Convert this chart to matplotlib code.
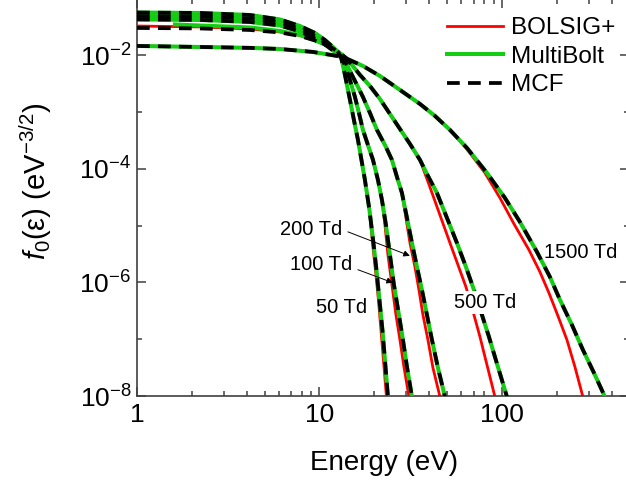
import matplotlib
matplotlib.use('Agg')
import matplotlib.pyplot as plt
from matplotlib.ticker import FixedLocator, LogLocator, NullFormatter

plt.rcParams['font.family'] = ['Liberation Sans', 'DejaVu Sans']
plt.rcParams['mathtext.fontset'] = 'custom'
plt.rcParams['mathtext.rm'] = 'Liberation Sans'
plt.rcParams['mathtext.it'] = 'Liberation Sans:italic'
plt.rcParams['mathtext.default'] = 'regular'

# --- data (energy in eV, f0 in eV^-3/2) ---
td_labels = ['50 Td', '100 Td', '200 Td', '500 Td', '1500 Td']

# MCF (MultiBolt lies on top of it)
e_50 = [1.0, 2.214, 4.161, 6.075, 7.82, 9.45, 10.72, 11.86, 12.63, 13.12, 13.62, 14.15, 14.70,
        15.45, 16.26, 16.99, 17.75, 18.79, 19.77, 20.53, 21.32, 22.14, 22.85, 23.73, 23.88]
f_50 = [5.71e-2, 5.60e-2, 5.16e-2, 4.31e-2, 3.30e-2, 2.49e-2, 1.87e-2, 1.41e-2, 1.153e-2, 9.42e-3,
        5.56e-3, 3.03e-3, 1.65e-3, 7.31e-4, 3.25e-4, 1.45e-4, 6.43e-5, 1.91e-5, 5.0e-6, 1.67e-6,
        4.97e-7, 1.47e-7, 4.36e-8, 9.73e-9, 8.61e-9]

e_100 = [1.0, 2.214, 4.161, 6.075, 7.82, 9.45, 10.72, 11.86, 12.63, 13.28, 13.97, 14.70, 15.65,
         16.46, 17.31, 18.44, 19.65, 20.92, 22.00, 23.14, 24.34, 25.60, 27.26, 28.68, 30.17, 32.13, 32.53]
f_100 = [4.95e-2, 4.86e-2, 4.48e-2, 3.81e-2, 2.93e-2, 2.20e-2, 1.69e-2, 1.30e-2, 1.084e-2, 9.04e-3,
         6.02e-3, 3.71e-3, 1.86e-3, 9.73e-4, 4.88e-4, 2.65e-4, 1.45e-4, 6.43e-5, 2.86e-5, 1.04e-5,
         3.08e-6, 9.12e-7, 2.70e-7, 9.79e-8, 3.28e-8, 9.73e-9, 7.94e-9]

e_200 = [1.0, 2.214, 4.161, 6.075, 7.82, 9.45, 10.72, 11.86, 12.79, 13.62, 14.33, 15.07, 16.05,
         17.31, 18.91, 20.66, 22.85, 24.96, 26.59, 28.32, 30.17, 32.13, 34.22, 36.45, 38.82, 41.35,
         44.61, 48.73, 49.34]
f_200 = [4.31e-2, 4.22e-2, 3.89e-2, 3.37e-2, 2.65e-2, 1.99e-2, 1.56e-2, 1.225e-2, 1.02e-2, 8.34e-3,
         6.28e-3, 4.54e-3, 3.03e-3, 1.86e-3, 9.73e-4, 4.88e-4, 2.65e-4, 1.45e-4, 7.26e-5, 3.79e-5,
         1.38e-5, 5.0e-6, 1.89e-6, 7.43e-7, 2.70e-7, 9.79e-8, 3.15e-8, 9.73e-9, 7.94e-9]

e_500 = [1.0, 2.214, 4.161, 6.075, 7.82, 9.45, 10.72, 11.86, 12.95, 13.97, 15.07, 16.68, 18.91,
         21.46, 24.34, 27.61, 31.33, 35.54, 39.31, 44.05, 49.96, 56.66, 63.49, 70.25, 77.71, 84.89,
         91.54, 98.74, 106.5, 107.9]
f_500 = [3.05e-2, 2.99e-2, 2.81e-2, 2.54e-2, 2.20e-2, 1.84e-2, 1.56e-2, 1.33e-2, 1.106e-2, 9.04e-3,
         6.81e-3, 4.54e-3, 2.90e-3, 1.71e-3, 9.33e-4, 5.08e-4, 2.77e-4, 1.45e-4, 7.57e-5, 3.79e-5,
         1.38e-5, 5.0e-6, 1.89e-6, 7.43e-7, 2.70e-7, 1.11e-7, 4.92e-8, 2.19e-8, 9.73e-9, 7.94e-9]

e_1500 = [1.0, 2.214, 4.161, 6.075, 9.21, 13.45, 17.31, 21.46, 27.61, 35.54, 42.95, 51.90, 64.29,
          82.78, 103.8, 125.5, 155.5, 183.2, 207.9, 241.8, 277.8, 319.3, 366.6, 376.0]
f_1500 = [1.47e-2, 1.41e-2, 1.36e-2, 1.30e-2, 1.153e-2, 9.42e-3, 6.53e-3, 4.35e-3, 2.47e-3, 1.40e-3,
          8.61e-4, 4.88e-4, 2.35e-4, 8.53e-5, 3.10e-5, 1.17e-5, 3.47e-6, 1.26e-6, 4.97e-7, 1.80e-7,
          6.53e-8, 2.57e-8, 9.73e-9, 7.94e-9]

# MultiBolt 500 Td starts at 1.6 eV, a little above the others at low energy
e_500_mb = [1.615, 2.214, 4.161, 6.075, 7.82] + e_500[5:]
f_500_mb = [3.52e-2, 3.37e-2, 3.11e-2, 2.70e-2, 2.29e-2] + f_500[5:]

# BOLSIG+
e_50_bs = e_50[:18] + [19.53, 20.27, 21.05, 21.73, 22.42, 23.29, 23.44]
f_50_bs = f_50

e_100_bs = e_100[:19] + [22.85, 23.73, 24.96, 26.26, 27.61, 29.04, 30.94, 31.33]
f_100_bs = f_100

e_200_bs = e_200[:20] + [29.79, 31.33, 33.37, 35.10, 36.91, 39.31, 41.88, 45.75, 46.33]
f_200_bs = f_200

e_500_bs = [1.0, 2.214, 4.161, 6.075, 7.82] + e_500[5:18] + \
           [40.83, 46.33, 51.90, 57.41, 63.49, 70.25, 75.78, 80.71, 85.97, 91.54, 92.72]
f_500_bs = [3.30e-2, 3.18e-2, 2.93e-2, 2.59e-2, 2.25e-2] + f_500[5:18] + \
           [4.29e-5, 1.38e-5, 5.0e-6, 2.05e-6, 8.41e-7, 2.70e-7, 1.11e-7, 4.92e-8, 2.19e-8, 9.73e-9, 7.94e-9]

e_1500_bs = e_1500[:12] + [63.49, 80.71, 97.50, 116.4, 140.6, 161.5, 180.9, 202.7, 227.1, 251.2, 277.8, 281.4]
f_1500_bs = f_1500[:12] + [2.35e-4, 8.53e-5, 3.10e-5, 1.08e-5, 3.77e-6, 1.54e-6, 6.59e-7, 2.59e-7,
                           9.79e-8, 3.28e-8, 9.73e-9, 7.94e-9]

mcf = [(e_50, f_50), (e_100, f_100), (e_200, f_200), (e_500, f_500), (e_1500, f_1500)]
multibolt = [(e_50, f_50), (e_100, f_100), (e_200, f_200), (e_500_mb, f_500_mb), (e_1500, f_1500)]
bolsig = [(e_50_bs, f_50_bs), (e_100_bs, f_100_bs), (e_200_bs, f_200_bs),
          (e_500_bs, f_500_bs), (e_1500_bs, f_1500_bs)]

red = '#ff0000'
green = '#14cc14'

fig = plt.figure(figsize=(6.26, 4.84), dpi=100)
ax = fig.add_axes([0.2188, 0.1818, 0.7867, 0.8209])

for i, (e, f) in enumerate(bolsig):
    ax.plot(e, f, color=red, lw=2.0, zorder=2, solid_joinstyle='round',
            label='BOLSIG+' if i == 0 else None)
for i, (e, f) in enumerate(multibolt):
    ax.plot(e, f, color=green, lw=2.9, zorder=3, solid_joinstyle='round',
            label='MultiBolt' if i == 0 else None)
for i, (e, f) in enumerate(mcf):
    ax.plot(e, f, color='black', lw=2.7, ls=(0, (3.4, 2.2)), zorder=4,
            label='MCF' if i == 0 else None)

ax.set_xscale('log')
ax.set_yscale('log')
ax.set_xlim(1, 500)
ax.set_ylim(1e-8, 1e-1)

ax.xaxis.set_major_locator(FixedLocator([1, 10, 100]))
ax.xaxis.set_minor_locator(LogLocator(base=10, subs=range(2, 10)))
ax.xaxis.set_minor_formatter(NullFormatter())
ax.set_xticklabels(['1', '10', '100'])
ax.yaxis.set_major_locator(FixedLocator([1e-8, 1e-6, 1e-4, 1e-2]))
ax.yaxis.set_minor_locator(FixedLocator([1e-7, 1e-5, 1e-3, 1e-1]))
ax.yaxis.set_minor_formatter(NullFormatter())
ax.set_yticklabels(['$10^{-8}$', '$10^{-6}$', '$10^{-4}$', '$10^{-2}$'])

ax.tick_params(which='both', direction='in', top=True, right=True,
               color='#404040', width=1.1, labelsize=19)
ax.tick_params(which='major', length=6.5)
ax.tick_params(which='minor', length=3.8)
ax.tick_params(axis='x', pad=5)
ax.tick_params(axis='y', pad=4)
for s in ax.spines.values():
    s.set_color('#404040')
    s.set_linewidth(1.2)

ax.set_xlabel('Energy (eV)', fontsize=20)
ax.xaxis.set_label_coords(0.5025, -0.169)
ax.xaxis.label.set_va('center')
ax.set_ylabel(r'$\mathit{f}_0$(ε) (eV$^{-3/2}$)', fontsize=21)
ax.yaxis.set_label_coords(-0.205, 0.54)
ax.yaxis.label.set_va('center')

ax.legend(loc='upper left', bbox_to_anchor=(0.629, 0.953), frameon=False,
          fontsize=17.5, handlelength=2.3, handletextpad=0.35,
          labelspacing=0.26, borderpad=0, borderaxespad=0)

# curve labels
lab = dict(fontsize=14.5, va='center', zorder=6)
ax.text(13.3, 8.47e-6, td_labels[2], ha='right', **lab)
ax.text(15.07, 2.05e-6, td_labels[1], ha='right', **lab)
ax.text(13.3, 3.59e-7, td_labels[0], ha='center', **lab)
ax.text(80.7, 4.4e-7, td_labels[3], ha='center',
        bbox=dict(facecolor='white', edgecolor='none', pad=1.5), **lab)
ax.text(271, 3.33e-6, td_labels[4], ha='center', **lab)

arrow = dict(arrowstyle='-|>', color='black', lw=0.7, mutation_scale=9,
             shrinkA=0, shrinkB=0)
ax.annotate('', xy=(31.3, 2.95e-6), xytext=(14.33, 7.8e-6), arrowprops=arrow, zorder=6)
ax.annotate('', xy=(25.27, 9.9e-7), xytext=(16.25, 1.68e-6), arrowprops=arrow, zorder=6)

fig.savefig('out.png', dpi=100)
